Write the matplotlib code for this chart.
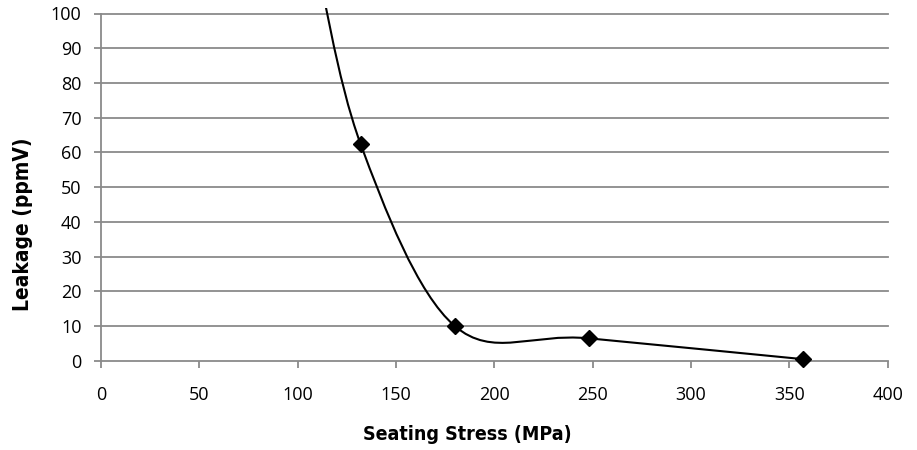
import matplotlib
matplotlib.use("Agg")
import matplotlib.pyplot as plt
from matplotlib.path import Path
from matplotlib.patches import PathPatch, Rectangle

# data; the first point sits above the axis and is clipped
stress = [108, 132, 180, 248, 357]
leakage = [120, 62.5, 10, 6.5, 0.5]

x_ticks = [0, 50, 100, 150, 200, 250, 300, 350, 400]
y_ticks = [0, 10, 20, 30, 40, 50, 60, 70, 80, 90, 100]

GRID = "#8a8a8a"
TICK_FONT = ["Open Sans", "DejaVu Sans"]
LABEL_FONT = ["DejaVu Sans"]


def smooth_path(xs, ys):
    # excel-like smoothed line: catmull-rom turned into bezier segments
    pts = list(zip(xs, ys))
    verts = [pts[0]]
    codes = [Path.MOVETO]
    n = len(pts)
    for i in range(n - 1):
        p0 = pts[i - 1] if i > 0 else pts[i]
        p1 = pts[i]
        p2 = pts[i + 1]
        p3 = pts[i + 2] if i + 2 < n else pts[i + 1]
        c1 = (p1[0] + (p2[0] - p0[0]) / 6, p1[1] + (p2[1] - p0[1]) / 6)
        c2 = (p2[0] - (p3[0] - p1[0]) / 6, p2[1] - (p3[1] - p1[1]) / 6)
        verts += [c1, c2, p2]
        codes += [Path.CURVE4] * 3
    return Path(verts, codes)


fig = plt.figure(figsize=(9.17, 4.5), dpi=100)
ax = fig.add_axes([0.110, 0.198, 0.858, 0.772])

ax.set_xlim(0, 400)
ax.set_ylim(0, 100)

for y in y_ticks:
    ax.axhline(y, color=GRID, lw=1.3, zorder=1, clip_on=False)

# plot area is a little taller than the axis range
clip = Rectangle((-0.02, -0.05), 1.04, 1.066, transform=ax.transAxes,
                 visible=False)
ax.add_patch(clip)

patch = PathPatch(smooth_path(stress, leakage), fill=False, edgecolor="black",
                  lw=1.5, zorder=3)
ax.add_patch(patch)
patch.set_clip_path(clip)
pts, = ax.plot(stress, leakage, linestyle="none", marker="D", ms=8,
               color="black", zorder=4)
pts.set_clip_path(clip)

for s in ["right", "top", "bottom"]:
    ax.spines[s].set_visible(False)
ax.spines["left"].set_color(GRID)
ax.spines["left"].set_linewidth(1.3)

ax.set_xticks(x_ticks)
ax.set_yticks(y_ticks)
ax.tick_params(axis="x", length=5, width=1.3, color=GRID, pad=13, labelsize=13)
ax.tick_params(axis="y", length=5, width=1.3, color=GRID, pad=9, labelsize=13)
for lab in ax.get_xticklabels() + ax.get_yticklabels():
    lab.set_family(TICK_FONT)

ax.set_xlabel("Seating Stress (MPa)", family=LABEL_FONT, fontweight="bold",
              fontstretch="condensed", fontsize=14)
ax.set_ylabel("Leakage (ppmV)", family=LABEL_FONT, fontweight="bold",
              fontstretch="condensed", fontsize=15)
ax.xaxis.set_label_coords(0.466, -0.184)
ax.yaxis.set_label_coords(-0.086, 0.394)

fig.savefig("out.png", dpi=100)
